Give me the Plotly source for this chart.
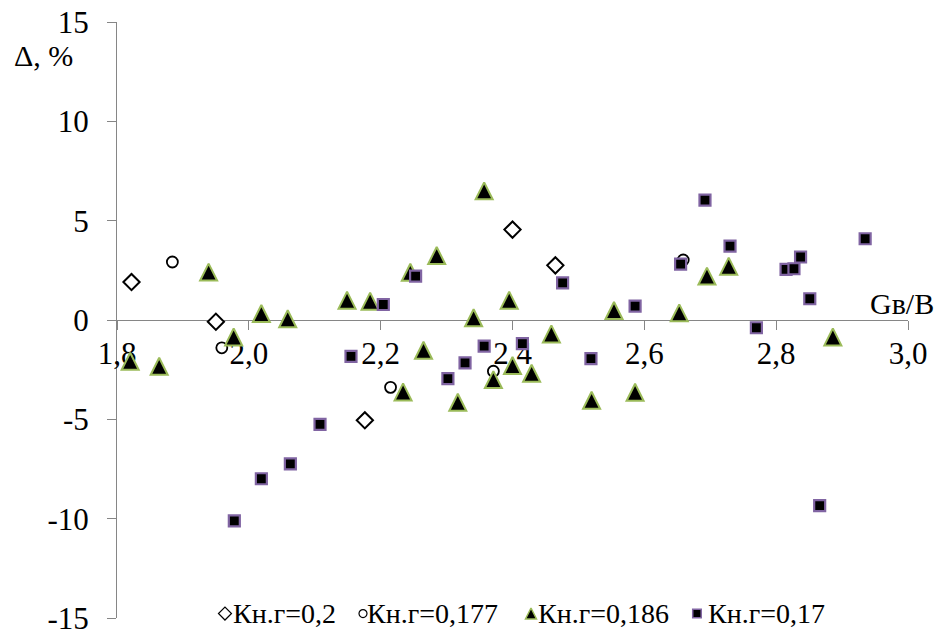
import plotly.graph_objects as go

# ---- data -------------------------------------------------------------
# Кн.г = 0,2
x_k020 = [1.822, 1.950, 2.176, 2.400, 2.465]
y_k020 = [1.91, -0.09, -5.05, 4.55, 2.75]

# Кн.г = 0,177
x_k0177 = [1.884, 1.959, 2.215, 2.371, 2.659]
y_k0177 = [2.92, -1.40, -3.39, -2.58, 3.02]

# Кн.г = 0,186
x_k0186 = [1.820, 1.864, 1.939, 1.977, 2.019, 2.059, 2.149, 2.184, 2.234,
           2.245, 2.265, 2.285, 2.317, 2.341, 2.357, 2.371, 2.395, 2.400,
           2.429, 2.459, 2.520, 2.554, 2.586, 2.653, 2.695, 2.728, 2.886]
y_k0186 = [-2.08, -2.33, 2.41, -0.85, 0.33, 0.06, 1.00, 0.95, -3.62,
           2.40, -1.52, 3.25, -4.14, 0.11, 6.50, -3.00, 1.00, -2.29,
           -2.68, -0.70, -4.04, 0.48, -3.64, 0.36, 2.21, 2.71, -0.85]

# Кн.г = 0,17
x_k017 = [1.978, 2.019, 2.063, 2.108, 2.155, 2.204, 2.253, 2.302, 2.328,
          2.357, 2.415, 2.476, 2.519, 2.586, 2.655, 2.692, 2.730, 2.770,
          2.815, 2.827, 2.837, 2.851, 2.866, 2.935]
y_k017 = [-10.11, -7.99, -7.24, -5.25, -1.83, 0.78, 2.21, -2.95, -2.16,
          -1.32, -1.19, 1.87, -1.94, 0.70, 2.81, 6.03, 3.72, -0.39,
          2.55, 2.58, 3.17, 1.07, -9.34, 4.09]

series_names = ["Кн.г=0,2", "Кн.г=0,177", "Кн.г=0,186", "Кн.г=0,17"]

x_tickvals = [1.8, 2.0, 2.2, 2.4, 2.6, 2.8, 3.0]
x_ticktext = ["1,8", "2,0", "2,2", "2,4", "2,6", "2,8", "3,0"]
y_tickvals = [-15, -10, -5, 0, 5, 10, 15]
y_ticktext = ["-15", "-10", "-5", "0", "5", "10", "15"]

# ---- styling ----------------------------------------------------------
FONT = "Times New Roman, Liberation Serif, serif"
AXIS_GREY = "#868686"
GREEN = "#9BBB59"
PURPLE = "#8064A2"


def marker_style(kind, big=True):
    """Marker dicts for the four series (plot size / legend size)."""
    if kind == 0:
        return dict(symbol="diamond", size=12.5 if big else 10, color="white",
                    line=dict(color="black", width=2 if big else 1.2))
    if kind == 1:
        return dict(symbol="circle", size=11 if big else 8, color="white",
                    line=dict(color="black", width=1.8 if big else 1.2))
    if kind == 2:
        s = 17 if big else 11
        # upright, roughly equilateral triangle centred on the point
        return dict(symbol="arrow-down", angle=180, standoff=s / 2, size=s,
                    color="black", line=dict(color=GREEN, width=2 if big else 1.5))
    return dict(symbol="square", size=11 if big else 8.5, color="black",
                line=dict(color=PURPLE, width=2.2 if big else 1.5))


fig = go.Figure()

data = [(x_k020, y_k020), (x_k0177, y_k0177), (x_k0186, y_k0186), (x_k017, y_k017)]
for i, (xs, ys) in enumerate(data):
    fig.add_trace(go.Scatter(
        x=xs, y=ys, mode="markers", name=series_names[i],
        marker=marker_style(i), showlegend=False, hoverinfo="x+y",
    ))

# ---- legend row along the bottom of the plot --------------------------
leg_marker_x = [0.1365, 0.3110, 0.5234, 0.7332]
leg_text_x = [0.1440, 0.3140, 0.5300, 0.7440]
leg_y = 0.0075
for i, name in enumerate(series_names):
    fig.add_trace(go.Scatter(
        x=[leg_marker_x[i]], y=[leg_y], xaxis="x2", yaxis="y2",
        mode="markers", marker=marker_style(i, big=False),
        showlegend=False, hoverinfo="skip", cliponaxis=False,
    ))
    fig.add_annotation(
        x=leg_text_x[i], y=leg_y, xref="paper", yref="paper",
        xanchor="left", yanchor="middle", text=name, showarrow=False,
        font=dict(family=FONT, size=28, color="black"),
    )

# axis titles
fig.add_annotation(
    x=-0.1327, y=0.9446, xref="paper", yref="paper", xanchor="left",
    yanchor="middle", text="Δ, %", showarrow=False,
    font=dict(family=FONT, size=30, color="black"),
)
fig.add_annotation(
    x=1.0354, y=0.527, xref="paper", yref="paper", xanchor="right",
    yanchor="middle", text="Gв/В", showarrow=False,
    font=dict(family=FONT, size=30, color="black"),
)

fig.update_layout(
    width=942, height=635,
    margin=dict(l=117, r=34, t=22, b=17, autoexpand=False),
    paper_bgcolor="white", plot_bgcolor="white",
    showlegend=False,
    font=dict(family=FONT, color="black"),
    xaxis=dict(
        range=[1.8, 3.0], tickvals=x_tickvals, ticktext=x_ticktext,
        ticks="outside", ticklen=9, tickwidth=1, tickcolor=AXIS_GREY,
        showline=True, linecolor=AXIS_GREY, linewidth=1,
        showgrid=False, zeroline=False, anchor="free", position=0.5,
        layer="below traces", tickfont=dict(family=FONT, size=31, color="black"),
        ticklabelstandoff=-3, automargin=False, ticklabeloverflow="allow",
    ),
    yaxis=dict(
        range=[-15, 15], tickvals=y_tickvals, ticktext=y_ticktext,
        ticks="outside", ticklen=9, tickwidth=1, tickcolor=AXIS_GREY,
        showline=True, linecolor=AXIS_GREY, linewidth=1,
        showgrid=False, zeroline=False, layer="below traces",
        tickfont=dict(family=FONT, size=31, color="black"),
        ticklabelstandoff=12, automargin=False, ticklabeloverflow="allow",
    ),
    xaxis2=dict(range=[0, 1], overlaying="x", visible=False, anchor="y2"),
    yaxis2=dict(range=[0, 1], overlaying="y", visible=False, anchor="x2"),
)

fig.write_html("out.html")
